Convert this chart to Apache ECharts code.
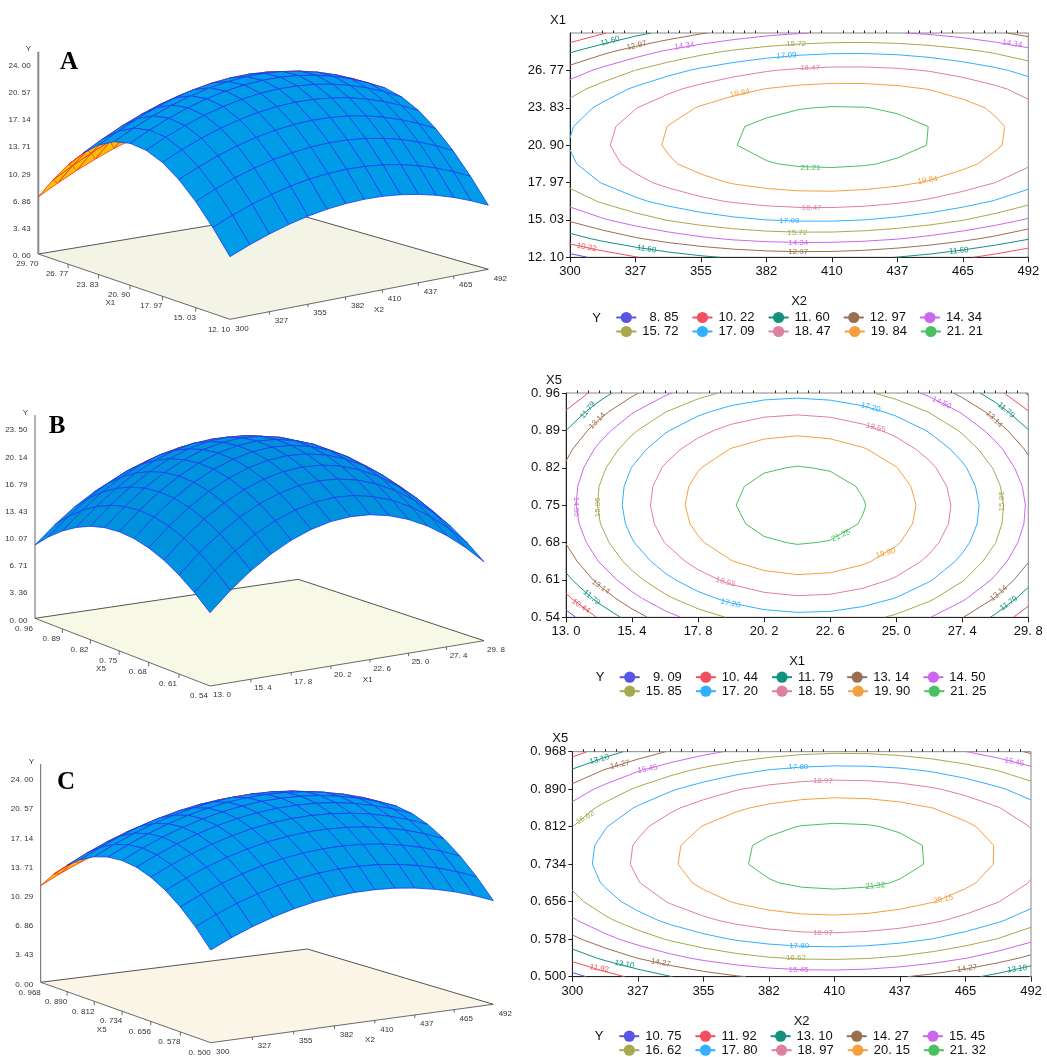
<!DOCTYPE html>
<html><head><meta charset="utf-8"><style>html,body{margin:0;background:#fff}#c{width:1047px;height:1057px}</style>
<script src="https://cdn.jsdelivr.net/npm/echarts@6/dist/echarts.min.js"></script></head>
<body><div id="c"></div>
<script>
// Response values on the 15 x 13 mesh, bottom row first
const zA=[
[8.32,9.30,10.14,10.83,11.37,11.77,12.02,12.13,12.09,11.91,11.57,11.10,10.47,9.70,8.79],
[10.98,11.98,12.83,13.54,14.11,14.53,14.80,14.92,14.90,14.73,14.42,13.96,13.36,12.61,11.71],
[13.16,14.18,15.06,15.79,16.37,16.80,17.09,17.24,17.24,17.09,16.79,16.36,15.77,15.04,14.16],
[14.87,15.91,16.81,17.55,18.15,18.61,18.92,19.08,19.10,18.97,18.69,18.27,17.70,16.99,16.13],
[16.11,17.17,18.08,18.84,19.46,19.94,20.27,20.45,20.48,20.37,20.12,19.71,19.16,18.47,17.63],
[16.87,17.95,18.88,19.66,20.30,20.79,21.14,21.34,21.39,21.30,21.06,20.68,20.15,19.47,18.65],
[17.16,18.25,19.20,20.00,20.66,21.17,21.54,21.76,21.83,21.76,21.54,21.17,20.66,20.00,19.20],
[16.97,18.08,19.05,19.87,20.55,21.08,21.46,21.70,21.79,21.73,21.53,21.19,20.70,20.06,19.27],
[16.30,17.43,18.42,19.26,19.96,20.51,20.91,21.16,21.27,21.24,21.06,20.73,20.26,19.64,18.87],
[15.16,16.31,17.32,18.18,18.89,19.46,19.88,20.16,20.29,20.27,20.11,19.80,19.34,18.74,17.99],
[13.55,14.72,15.74,16.62,17.35,17.94,18.38,18.67,18.82,18.82,18.68,18.39,17.95,17.37,16.64],
[11.46,12.65,13.69,14.59,15.34,15.94,16.40,16.72,16.88,16.90,16.78,16.51,16.09,15.53,14.82],
[8.90,10.10,11.17,12.08,12.85,13.47,13.95,14.28,14.47,14.51,14.40,14.15,13.75,13.21,12.52]];
const zB=[
[8.46,10.61,12.43,13.94,15.13,16.00,16.56,16.79,16.71,16.31,15.59,14.56,13.20,11.53,9.54],
[10.07,12.21,14.02,15.53,16.71,17.57,18.12,18.35,18.26,17.85,17.13,16.08,14.72,13.04,11.05],
[11.39,13.52,15.33,16.83,18.00,18.86,19.40,19.62,19.52,19.11,18.38,17.33,15.96,14.27,12.27],
[12.43,14.55,16.36,17.84,19.01,19.86,20.40,20.61,20.51,20.08,19.34,18.29,16.91,15.22,13.21],
[13.19,15.30,17.10,18.58,19.74,20.58,21.11,21.32,21.20,20.78,20.03,18.96,17.58,15.88,13.86],
[13.66,15.77,17.56,19.03,20.18,21.02,21.54,21.74,21.62,21.18,20.43,19.36,17.97,16.26,14.23],
[13.85,15.95,17.73,19.20,20.35,21.17,21.69,21.88,21.75,21.31,20.55,19.47,18.07,16.36,14.32],
[13.76,15.85,17.63,19.09,20.22,21.05,21.55,21.74,21.60,21.15,20.38,19.30,17.89,16.17,14.13],
[13.38,15.47,17.24,18.69,19.82,20.63,21.13,21.31,21.17,20.71,19.94,18.84,17.43,15.70,13.65],
[12.72,14.80,16.56,18.01,19.13,19.94,20.43,20.60,20.45,19.99,19.20,18.10,16.68,14.95,12.89],
[11.78,13.85,15.61,17.04,18.16,18.96,19.44,19.61,19.45,18.98,18.19,17.08,15.66,13.91,11.85],
[10.56,12.62,14.37,15.80,16.91,17.70,18.18,18.33,18.17,17.69,16.89,15.78,14.34,12.59,10.52],
[9.05,11.11,12.85,14.27,15.37,16.16,16.62,16.77,16.60,16.12,15.31,14.19,12.75,10.99,8.91]];
const zC=[
[10.30,11.37,12.29,13.06,13.69,14.17,14.50,14.69,14.72,14.62,14.36,13.96,13.41,12.72,11.88],
[12.31,13.38,14.31,15.09,15.72,16.21,16.55,16.74,16.78,16.68,16.44,16.04,15.50,14.81,13.98],
[13.97,15.05,15.98,16.77,17.41,17.90,18.24,18.44,18.50,18.40,18.16,17.77,17.24,16.56,15.73],
[15.28,16.36,17.30,18.10,18.74,19.24,19.59,19.80,19.86,19.77,19.54,19.16,18.63,17.95,17.13],
[16.24,17.33,18.28,19.08,19.73,20.24,20.60,20.81,20.87,20.79,20.56,20.19,19.67,19.00,18.19],
[16.86,17.95,18.91,19.71,20.37,20.88,21.25,21.47,21.54,21.47,21.25,20.88,20.36,19.70,18.90],
[17.12,18.23,19.19,20.00,20.66,21.18,21.55,21.78,21.86,21.79,21.58,21.22,20.71,20.05,19.25],
[17.04,18.15,19.12,19.94,20.61,21.13,21.51,21.74,21.83,21.77,21.56,20.21,20.71,20.06,19.26],
[16.61,17.73,18.70,19.53,20.20,20.74,21.12,21.36,21.45,21.40,21.20,20.85,20.36,19.72,18.93],
[15.83,16.96,17.94,18.77,19.45,19.99,20.38,20.63,20.73,20.68,20.49,20.15,19.66,19.02,18.24],
[14.70,15.84,16.82,17.66,18.35,18.90,19.30,19.55,19.66,19.61,19.43,19.09,18.61,17.98,17.21],
[13.23,14.37,15.36,16.21,16.91,17.46,17.86,18.12,18.23,18.20,18.02,17.69,17.22,16.60,15.83],
[11.41,12.55,13.55,14.40,15.11,15.67,16.08,16.35,16.46,16.44,16.26,15.94,15.47,14.86,14.10]];
zC[7][11]=21.21;

const levelsA=[8.85,10.22,11.60,12.97,14.34,15.72,17.09,18.47,19.84,21.21];
const levelsB=[9.09,10.44,11.79,13.14,14.50,15.85,17.20,18.55,19.90,21.25];
const levelsC=[10.75,11.92,13.10,14.27,15.45,16.62,17.80,18.97,20.15,21.32];

const ticksX2=['300','327','355','382','410','437','465','492'];
const ticksX1a=['12. 10','15. 03','17. 97','20. 90','23. 83','26. 77','29. 70'];
const ticksX1b=['13. 0','15. 4','17. 8','20. 2','22. 6','25. 0','27. 4','29. 8'];
const ticksX5b=['0. 54','0. 61','0. 68','0. 75','0. 82','0. 89','0. 96'];
const ticksX5c=['0. 500','0. 578','0. 656','0. 734','0. 812','0. 890','0. 968'];
const ticksYA=['0. 00','3. 43','6. 86','10. 29','13. 71','17. 14','20. 57','24. 00'];
const ticksYB=['0. 00','3. 36','6. 71','10. 07','13. 43','16. 79','20. 14','23. 50'];
const ticksYC=ticksYA;

// Inline contour labels: text, x, y in axis units
const inlineA=[['11.60',316.8,29.07],['12.97',327.9,28.71],['14.34',347.9,28.68],['15.72',394.7,28.86],['17.09',390.7,27.92],['18.47',400.5,26.98],['19.84',371.2,24.97],['21.21',400.8,19.13],['19.84',449.8,18.14],['18.47',401.2,15.97],['17.09',391.9,15.0],['15.72',395.2,14.04],['14.34',395.6,13.22],['12.97',395.6,12.54],['11.60',332.1,12.75],['10.22',307,12.88],['11.60',462.9,12.62],['14.34',485.3,28.86]];
const inlineB=[['11.79',13.79,.928],['13.14',14.14,.908],['14.50',13.36,.747],['15.85',14.17,.746],['17.20',24.07,.933],['18.55',24.26,.895],['21.25',22.99,.693],['19.90',24.61,.660],['18.55',18.80,.606],['17.20',18.98,.566],['13.14',14.26,.597],['11.79',13.93,.577],['10.44',13.54,.561],['14.50',26.65,.942],['11.79',28.99,.928],['13.14',28.56,.911],['15.85',28.85,.757],['13.14',28.73,.585],['11.79',29.09,.566]];
const inlineC=[['13.10',311.3,.952],['14.27',319.9,.941],['15.45',331.5,.932],['16.62',305.4,.831],['17.80',394.6,.936],['18.97',404.9,.908],['21.32',426.8,.689],['20.15',455.3,.661],['18.97',404.9,.592],['17.80',395,.564],['16.62',393.6,.539],['15.45',394.7,.515],['14.27',337,.529],['13.10',321.8,.526],['11.92',311.3,.517],['14.27',465.3,.517],['13.10',486.2,.516],['15.45',485,.947]];
const tiltA=[15,12,8,0,3,0,12,0,8,0,0,0,0,0,-8,-10,5,-8];
const tiltB=[50,45,-90,90,-15,-15,25,15,-15,-12,-35,-40,-35,-25,-40,-45,90,40,35];
const tiltC=[15,12,10,30,0,0,5,12,0,0,0,0,-10,-10,-10,8,8,-10];

const levelColors=['#5a55e0','#f0505f','#14907f','#9a6e50','#cc66ee','#a8a850','#30b0ff','#e080a0','#f5a040','#4ac060'];
const FONT='"Liberation Sans"';

const panels=[
 {tag:'A',z:zA,levels:levelsA,xName:'X2',yName:'X1',xMin:300,xMax:492,yMin:12.1,yMax:29.7,xTicks:ticksX2,yTicks:ticksX1a,zTicks:ticksYA,inline:inlineA,tilt:tiltA,
  rect:[570,33,458.3,224.3],legendX:615.3,legendY:[311,325],yTitle:[596.7,318],
  view:{front:[230,319.3],right:[488.3,269.3],back:[290,212.3],left:[38.3,254]},axisScale:7.94,zTop:51.7,
  hs:[[7.53,7.75,7.3],[8.27,8.33,7.9],[6.43,7.5,7.0]],fill:'#009ce8',base:'#f3f3e6',axisC:'#888',axisW:2,
  letter:[69,63],title3d:{v:[110.3,302.7],u:[379,309.3],z:[28.3,48.3]}},
 {tag:'B',z:zB,levels:levelsB,xName:'X1',yName:'X5',xMin:13,xMax:29.8,yMin:.54,yMax:.96,xTicks:ticksX1b,yTicks:ticksX5b,zTicks:ticksYB,inline:inlineB,tilt:tiltB,
  rect:[566,393,462.3,224.3],legendX:618.7,legendY:[670.7,684.7],yTitle:[600,677.7],
  view:{front:[210,686],right:[484,640.7],back:[298.3,579.3],left:[35,618.3]},axisScale:8.09,zTop:415,
  hs:[[8.67,8.7,8.27],[8.6,8.6,8.5],[8.1,8.3,8.2]],fill:'#0092dc',base:'#f8f8e6',axisC:'#666',axisW:1,
  letter:[57,427],title3d:{v:[101,668.3],u:[367.7,679.3],z:[25.3,412.3]}},
 {tag:'C',z:zC,levels:levelsC,xName:'X2',yName:'X5',xMin:300,xMax:492,yMin:.5,yMax:.968,xTicks:ticksX2,yTicks:ticksX5c,zTicks:ticksYC,inline:inlineC,tilt:tiltC,
  rect:[572.3,751.7,458.7,225],legendX:618.3,legendY:[1029.7,1043.7],yTitle:[599,1036.7],
  view:{front:[210.7,1042.7],right:[493.3,1004.3],back:[307.3,949],left:[40.7,982.3]},axisScale:8.51,zTop:764,
  hs:[[9,8.9,8.73],[8.8,8.8,8.8],[8.47,8.5,8.5]],fill:'#009ce8',base:'#faf5e6',axisC:'#666',axisW:1,
  letter:[66,783],title3d:{v:[101.7,1029.3],u:[370,1040],z:[31.3,761.7]}}
];

function homography(v){
 const [x0,y0]=v.front,[x1,y1]=v.right,[x2,y2]=v.back,[x3,y3]=v.left;
 const dx1=x1-x2,dx2=x3-x2,sx=x0-x1+x2-x3,dy1=y1-y2,dy2=y3-y2,sy=y0-y1+y2-y3;
 const den=dx1*dy2-dx2*dy1,g=(sx*dy2-dx2*sy)/den,h=(dx1*sy-sx*dy1)/den;
 const a=x1-x0+g*x1,b=x3-x0+h*x3,d=y1-y0+g*y1,e=y3-y0+h*y3;
 return (u,w)=>{const k=g*u+h*w+1;return {x:(a*u+b*w+x0)/k,y:(d*u+e*w+y0)/k,depth:k};};
}
function basis(t){return [2*(t-.5)*(t-1),4*t*(1-t),2*t*(t-.5)];}
function heightScale(hs,u,v){const a=basis(u),b=basis(v);let s=0;for(let r=0;r<3;r++)for(let c=0;c<3;c++)s+=b[r]*a[c]*hs[r][c];return s;}

function build3d(p){
 const H=homography(p.view),items=[];
 const nx=p.z[0].length-1,ny=p.z.length-1;
 const P=(u,v,z)=>{const b=H(u,v);return [b.x,b.y-z*heightScale(p.hs,u,v)];};
 const B=(u,v)=>{const b=H(u,v);return [b.x,b.y];};
 const V=p.view;
 items.push({t:'poly',pts:[V.front,V.right,V.back,V.left],fill:p.base,stroke:'none',lw:0});
 items.push({t:'line',pts:[V.left,V.back,V.right],stroke:'#555',lw:1});
 items.push({t:'line',pts:[V.left,V.front,V.right],stroke:'#444',lw:.8});
 items.push({t:'line',pts:[V.left,[V.left[0],p.zTop]],stroke:p.axisC,lw:p.axisW});
 const quads=[];
 const area=q=>{let s=0;for(let i=0;i<4;i++){const a=q[i],b=q[(i+1)%4];s+=a[0]*b[1]-b[0]*a[1];}return s;};
 const baseSign=Math.sign(area([V.front,V.right,V.back,V.left]));
 for(let j=0;j<ny;j++)for(let i=0;i<nx;i++){
  const q=[P(i/nx,j/ny,p.z[j][i]),P((i+1)/nx,j/ny,p.z[j][i+1]),P((i+1)/nx,(j+1)/ny,p.z[j+1][i+1]),P(i/nx,(j+1)/ny,p.z[j+1][i])];
  quads.push({q,d:H((i+.5)/nx,(j+.5)/ny).depth,flip:Math.sign(area(q))!==baseSign});
 }
 quads.sort((a,b)=>b.d-a.d);
 quads.forEach(o=>{
  if(o.flip){items.push({t:'poly',pts:o.q,fill:'#ffc000',stroke:'#f03020',lw:.8});items.push({t:'line',pts:[o.q[0],o.q[2]],stroke:'#f03020',lw:.7});}
  else items.push({t:'poly',pts:o.q,fill:p.fill,stroke:'#1c3cf0',lw:.8});
 });
 const label=(pos,text,align)=>items.push({t:'text',p:pos,text,font:'8px '+FONT,fill:'#333',align:align||'center'});
 p.xTicks.forEach((s,k)=>{const u=k/(p.xTicks.length-1),b=B(u,0);
  if(k>0&&k<p.xTicks.length-1)items.push({t:'line',pts:[b,[b[0],b[1]+3]],stroke:'#444',lw:.8});
  label([b[0]+12,b[1]+9],s);});
 p.yTicks.forEach((s,k)=>{const v=k/(p.yTicks.length-1),b=B(0,v);
  if(k>0&&k<p.yTicks.length-1)items.push({t:'line',pts:[b,[b[0],b[1]+4]],stroke:'#444',lw:.8});
  label([b[0]-11,b[1]+10],s);});
 p.zTicks.forEach((s,k)=>{const val=parseFloat(s.replace(' ',''));label([V.left[0]-7.6,V.left[1]+2-val*p.axisScale],s,'right');});
 label(p.title3d.v,p.yName);label(p.title3d.u,p.xName);label(p.title3d.z,'Y');
 items.push({t:'text',p:p.letter,text:p.tag,font:'bold 25px "Liberation Serif"',fill:'#000',align:'center'});
 items.push({t:'text',p:p.yTitle,text:'Y',font:'13px '+FONT,fill:'#111',align:'center'});
 return items;
}
function segments(p,level){
 const out=[],z=p.z,nx=z[0].length-1,ny=z.length-1;
 const X=i=>p.xMin+i/nx*(p.xMax-p.xMin),Y=j=>p.yMin+j/ny*(p.yMax-p.yMin);
 for(let j=0;j<ny;j++)for(let i=0;i<nx;i++){
  const c=[[i,j],[i+1,j],[i+1,j+1],[i,j+1]],pts=[];
  for(let e=0;e<4;e++){const a=c[e],b=c[(e+1)%4],za=z[a[1]][a[0]],zb=z[b[1]][b[0]];
   if((za<level)!==(zb<level)){const t=(level-za)/(zb-za);pts.push([X(a[0]+t*(b[0]-a[0])),Y(a[1]+t*(b[1]-a[1]))]);}}
  if(pts.length===2)out.push(pts[0],pts[1],[null,null]);
  else if(pts.length===4)out.push(pts[0],pts[1],[null,null],pts[2],pts[3],[null,null]);
 }
 return out;
}
const fmt=n=>n.toFixed(2).replace('.','. ');
function drawItems(items){
 return function(params,api){
  const it=items[api.value(0)];
  if(it.t==='text'){const c=api.coord(it.p);return {type:'text',x:c[0],y:c[1],rotation:(it.rot||0)*Math.PI/180,
    style:{text:it.text,font:it.font,fill:it.fill,align:it.align,verticalAlign:'middle',backgroundColor:it.bg,padding:it.bg?[0,2]:0}};}
  const pts=it.pts.map(q=>api.coord(q));
  if(it.t==='poly')return {type:'polygon',shape:{points:pts},style:{fill:it.fill,stroke:it.stroke==='none'?null:it.stroke,lineWidth:it.lw}};
  return {type:'polyline',shape:{points:pts},style:{fill:null,stroke:it.stroke,lineWidth:it.lw}};
 };
}
const grid=[],xAxis=[],yAxis=[],series=[],legend=[];
const axisText={fontFamily:FONT,fontSize:13,color:'#111'};
panels.forEach((p,n)=>{
 const [l,t,w,h]=p.rect;
 grid.push({left:l,top:t,width:w,height:h,show:true,borderColor:'#888',borderWidth:1,backgroundColor:'transparent'});
 const nX=p.xTicks.length-1,nY=p.yTicks.length-1;
 const xv=p.xTicks.map((_,k)=>p.xMin+k/nX*(p.xMax-p.xMin));
 const yv=p.yTicks.map((_,k)=>p.yMin+k/nY*(p.yMax-p.yMin));
 const minor=[];for(let k=0;k<=nX*6;k++)if(k%6)minor.push(p.xMin+k/(nX*6)*(p.xMax-p.xMin));
 const lookup=(vals,txt)=>v=>{let b=0;vals.forEach((q,i)=>{if(Math.abs(q-v)<Math.abs(vals[b]-v))b=i;});return txt[b];};
 xAxis.push({gridIndex:n,type:'value',min:p.xMin,max:p.xMax,name:p.xName,nameLocation:'middle',nameGap:38,nameTextStyle:axisText,
  splitLine:{show:false},axisLine:{onZero:false,lineStyle:{color:'#222'}},axisTick:{customValues:xv,length:5,lineStyle:{color:'#222'}},
  axisLabel:{customValues:xv,formatter:lookup(xv,p.xTicks),margin:8,...axisText}});
 xAxis.push({gridIndex:n,type:'value',min:p.xMin,max:p.xMax,splitLine:{show:false},axisLine:{show:false,onZero:false},
  axisTick:{customValues:minor,length:2.5,lineStyle:{color:'#222'}},axisLabel:{show:false}});
 yAxis.push({gridIndex:n,type:'value',min:p.yMin,max:p.yMax,name:p.yName,nameLocation:'end',nameGap:6,nameTextStyle:{...axisText,padding:[0,24,0,0]},
  splitLine:{show:false},axisLine:{onZero:false,lineStyle:{color:'#222'}},axisTick:{customValues:yv,length:4,lineStyle:{color:'#222'}},
  axisLabel:{customValues:yv,formatter:lookup(yv,p.yTicks),margin:6,...axisText}});
 const names=p.levels.map(fmt);
 p.levels.forEach((lv,i)=>series.push({type:'line',name:names[i],xAxisIndex:2*n,yAxisIndex:n,data:segments(p,lv),symbol:'none',showSymbol:false,
  connectNulls:false,silent:true,animation:false,clip:true,lineStyle:{color:levelColors[i],width:1},itemStyle:{color:levelColors[i]}}));
 const inl=p.inline.map((r,i)=>({t:'text',p:[r[1],r[2]],text:r[0],font:'8px '+FONT,align:'center',rot:p.tilt[i],bg:'#fff',
   fill:levelColors[p.levels.findIndex(v=>v.toFixed(2)===r[0])]}));
 series.push({type:'custom',xAxisIndex:2*n,yAxisIndex:n,data:inl.map((_,i)=>[i]),encode:{x:-1,y:-1},renderItem:drawItems(inl),clip:false,silent:true,animation:false,z:3});
 [names.slice(0,5),names.slice(5)].forEach((d,r)=>legend.push({data:d,left:p.legendX,top:p.legendY[r],orient:'horizontal',padding:0,itemWidth:20,itemHeight:14,itemGap:13,
  selectedMode:false,formatter:s=>s.length<6?'  '+s:s,textStyle:{...axisText,padding:[0,0,0,1]}}));
});
grid.push({left:0,top:0,width:1047,height:1057,show:false});
xAxis.push({gridIndex:3,type:'value',min:0,max:1047,show:false});
yAxis.push({gridIndex:3,type:'value',min:0,max:1057,inverse:true,show:false});
panels.forEach(p=>{const it=build3d(p);
 series.push({type:'custom',xAxisIndex:6,yAxisIndex:3,data:it.map((_,i)=>[i]),encode:{x:-1,y:-1},renderItem:drawItems(it),clip:false,silent:true,animation:false,z:2,progressive:0});});
const chart=echarts.init(document.getElementById('c'),null,{renderer:'canvas'});
chart.setOption({backgroundColor:'#fff',animation:false,tooltip:{show:false},grid,xAxis,yAxis,legend,series});
</script></body></html>
